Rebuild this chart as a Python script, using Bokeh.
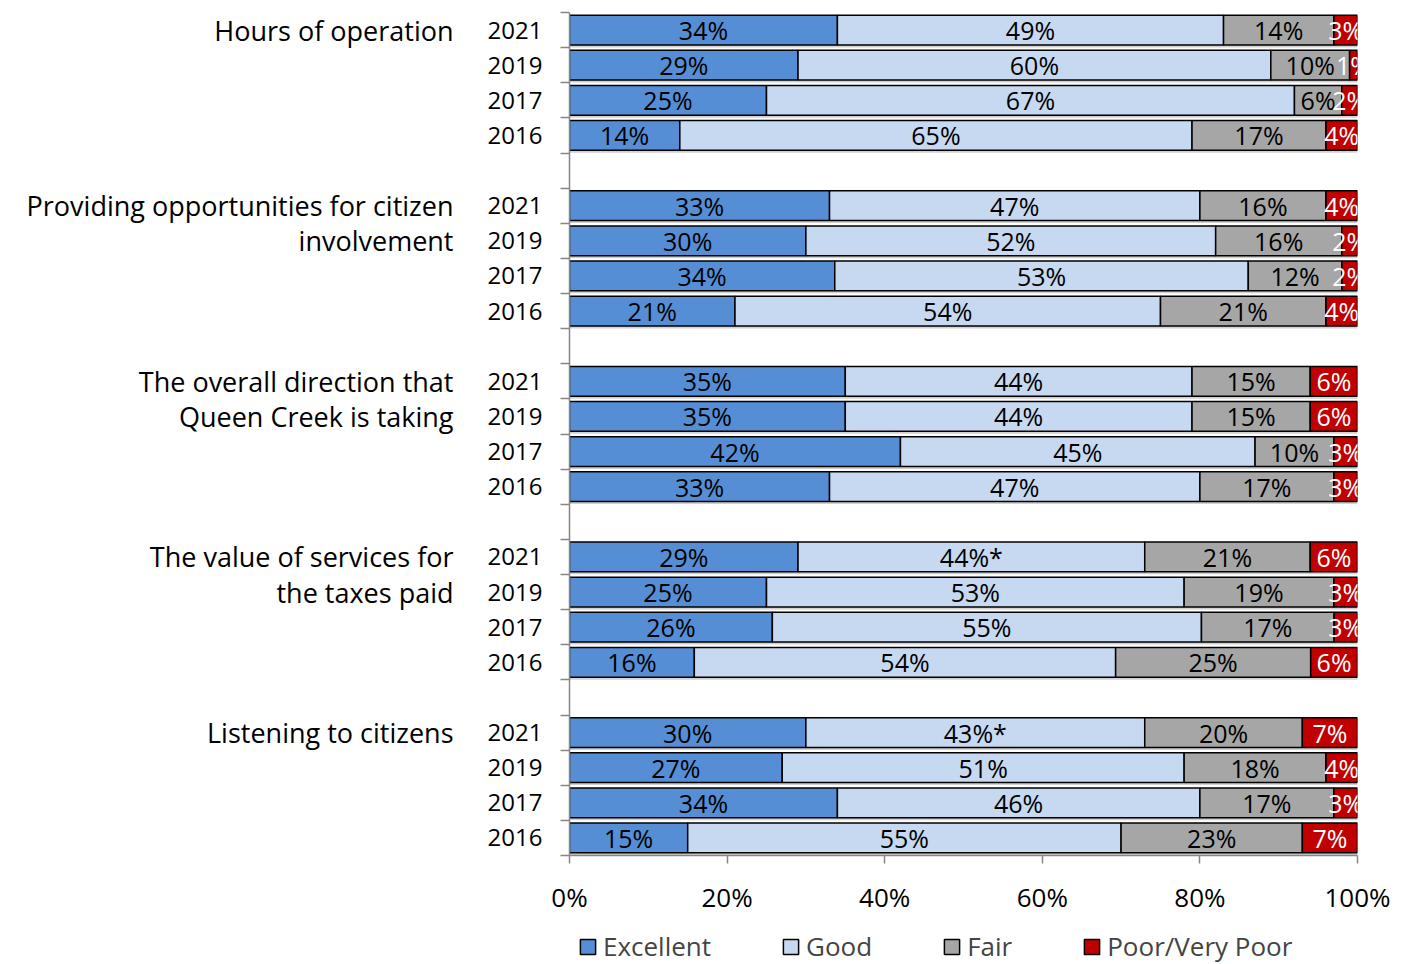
from bokeh.plotting import figure
from bokeh.layouts import column
from bokeh.models import (ColumnDataSource, Range1d, FixedTicker, PrintfTickFormatter,
                          LinearAxis, Legend, LegendItem)
from bokeh.core.properties import value
from bokeh.transform import dodge
from bokeh.embed import file_html
from bokeh.resources import INLINE

# ---------------- data ----------------
group_lines = [
    ["Hours of operation"],
    ["Providing opportunities for citizen", "involvement"],
    ["The overall direction that", "Queen Creek is taking"],
    ["The value of services for", "the taxes paid"],
    ["Listening to citizens"],
]
years = ["2021", "2019", "2017", "2016"]
series = ["Excellent", "Good", "Fair", "Poor/Very Poor"]

excellent = [34, 29, 25, 14, 33, 30, 34, 21, 35, 35, 42, 33, 29, 25, 26, 16, 30, 27, 34, 15]
good = [49, 60, 67, 65, 47, 52, 53, 54, 44, 44, 45, 47, 44, 53, 55, 54, 43, 51, 46, 55]
fair = [14, 10, 6, 17, 16, 16, 12, 21, 15, 15, 10, 17, 21, 19, 17, 25, 20, 18, 17, 23]
poor = [3, 1, 2, 4, 4, 2, 2, 4, 6, 6, 3, 3, 6, 3, 3, 6, 7, 4, 3, 7]
good_note = ["", "", "", "", "", "", "", "", "", "", "", "",
             "*", "", "", "", "*", "", "", ""]
x_ticks = [0, 20, 40, 60, 80, 100]

# ---------------- styles ----------------
colors = ["#558ED5", "#C6D9F1", "#A6A6A6", "#C00000"]
label_colors = ["black", "black", "black", "white"]
FONT = "Open Sans"
FS = "25px"
AXIS_GRAY = "#868686"

# ---------------- derived ----------------
n_years = len(years)
slot = n_years + 1
ys, year_txt = [], []
for g in range(len(group_lines)):
    for j in range(n_years):
        ys.append(-(g * slot + j))
        year_txt.append(years[j])

vals = [excellent, good, fair, poor]
data = dict(y=ys)
lab_x, lab_y, lab_t, lab_c = [], [], [], []
for i in range(len(ys)):
    row = [v[i] for v in vals]
    tot = float(sum(row))
    cum = 0.0
    for s, v in enumerate(row):
        left = cum / tot * 100
        cum += v
        right = cum / tot * 100
        data.setdefault(f"l{s}", []).append(left)
        data.setdefault(f"r{s}", []).append(right)
        lab_x.append((left + right) / 2)
        lab_y.append(ys[i])
        lab_t.append(f"{v}%" + (good_note[i] if s == 1 else ""))
        lab_c.append(label_colors[s])

src = ColumnDataSource(data)
lab_src = ColumnDataSource(dict(x=lab_x, y=lab_y, t=lab_t, c=lab_c))

gy, gt = [], []
for g, lines in enumerate(group_lines):
    for k, line in enumerate(lines):
        gy.append(-(g * slot + k))
        gt.append(line)

bounds = sorted(set([y + 0.5 for y in ys] + [y - 0.5 for y in ys]))

# ---------------- main figure ----------------
p = figure(width=1396, height=918, output_backend="svg", toolbar_location=None,
           x_range=Range1d(0, 100), y_range=Range1d(min(ys) - 0.5, max(ys) + 0.5),
           min_border_left=569, min_border_right=39, min_border_top=12, min_border_bottom=63)
p.outline_line_color = None
p.xgrid.grid_line_color = None
p.ygrid.grid_line_color = None

# soft shadow under each bar
p.hbar(y=dodge("y", -0.07), left="l0", right="r3", height=0.85, source=src,
       fill_color="black", fill_alpha=0.18, line_color=None)

for s in range(4):
    p.hbar(y="y", left=f"l{s}", right=f"r{s}", height=0.85, source=src,
           fill_color=colors[s], line_color="black", line_width=1.5)

p.text(x="x", y="y", text="t", source=lab_src, text_color="c",
       text_align="center", text_baseline="middle",
       text_font=value(FONT), text_font_size=FS)

# x axis
p.xaxis.ticker = FixedTicker(ticks=x_ticks)
p.xaxis.formatter = PrintfTickFormatter(format="%d%%")
p.xaxis.major_tick_in = 0
p.xaxis.major_tick_out = 8
p.xaxis.minor_tick_line_color = None
p.xaxis.axis_line_color = AXIS_GRAY
p.xaxis.major_tick_line_color = AXIS_GRAY
p.xaxis.axis_line_width = 1.5
p.xaxis.major_tick_line_width = 1.5
p.xaxis.major_label_text_font = FONT
p.xaxis.major_label_text_font_size = "26px"
p.xaxis.major_label_text_color = "black"
p.xaxis.major_label_standoff = 15

# y axis: year labels, ticks at row boundaries
ya = p.yaxis[0]
ya.ticker = FixedTicker(ticks=ys, minor_ticks=bounds)
ya.major_label_overrides = {y: t for y, t in zip(ys, year_txt)}
ya.major_tick_line_color = None
ya.major_tick_in = 0
ya.major_tick_out = 0
ya.minor_tick_in = 0
ya.minor_tick_out = 9
ya.minor_tick_line_color = AXIS_GRAY
ya.minor_tick_line_width = 1.5
ya.axis_line_color = AXIS_GRAY
ya.axis_line_width = 1.5
ya.major_label_standoff = 18
ya.major_label_text_font = FONT
ya.major_label_text_font_size = "24px"
ya.major_label_text_color = "black"

# outer left axis: group labels
ga = LinearAxis(ticker=FixedTicker(ticks=gy),
                major_label_overrides={y: t for y, t in zip(gy, gt)},
                axis_line_color=None, major_tick_line_color=None,
                minor_tick_line_color=None, major_tick_in=0, major_tick_out=0,
                major_label_standoff=31, major_label_text_font=FONT,
                major_label_text_font_size="27px", major_label_text_color="black")
p.add_layout(ga, "left")

# ---------------- legend strip ----------------
lf = figure(width=1396, height=46, output_backend="svg", toolbar_location=None,
            x_range=Range1d(0, 1), y_range=Range1d(0, 1),
            x_axis_type=None, y_axis_type=None,
            min_border_left=0, min_border_right=0, min_border_top=0, min_border_bottom=0)
lf.outline_line_color = None
lf.xgrid.grid_line_color = None
lf.ygrid.grid_line_color = None
leg_r = []
for s in range(4):
    r = lf.hbar(y="y", left=f"l{s}", right=f"r{s}", height=0.85, source=src,
                fill_color=colors[s], line_color="black", line_width=1.5, visible=False)
    leg_r.append(r)

legend = Legend(items=[LegendItem(label=series[s], renderers=[leg_r[s]]) for s in range(4)],
                orientation="horizontal", location=(9, 0),
                glyph_width=19, glyph_height=19, label_standoff=6, spacing=70,
                padding=0, margin=0, border_line_color=None, background_fill_alpha=0,
                label_text_font=FONT, label_text_font_size="26px", label_height=20)
lf.add_layout(legend, "center")

open("out.html", "w").write(file_html(column(p, lf), INLINE))
